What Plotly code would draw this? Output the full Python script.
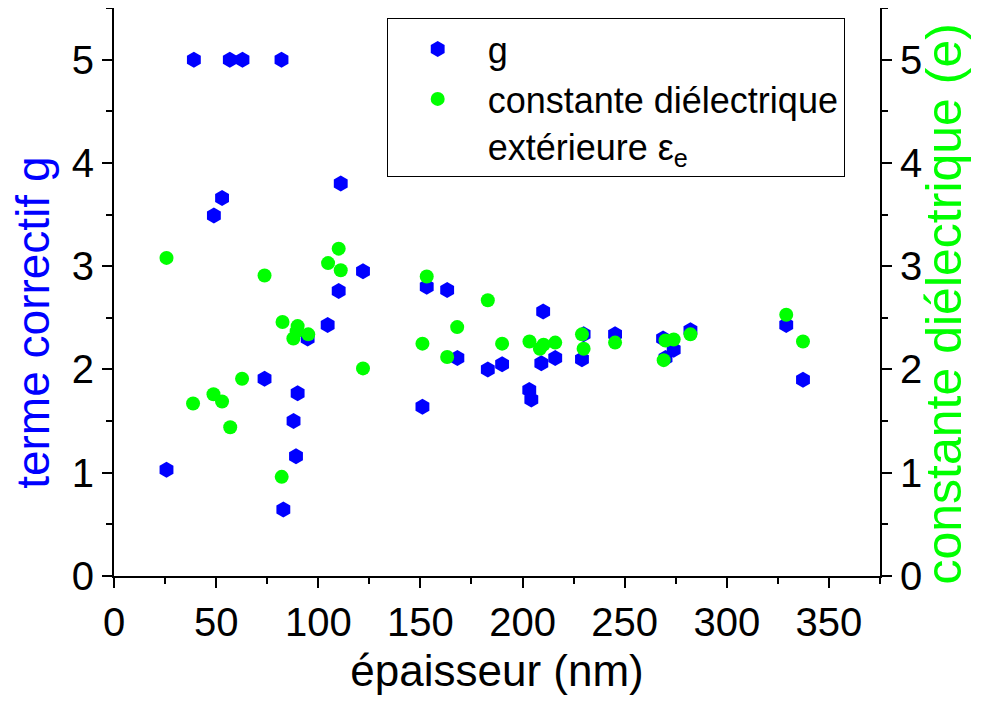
import plotly.graph_objects as go

# épaisseur (nm) and terme correctif g
g_x = [25.7, 39.1, 48.9, 52.9, 56.7, 62.9, 73.7, 82.0, 82.9, 87.9, 89.1, 89.9,
       94.8, 104.6, 110.0, 111.0, 121.9, 151.0, 153.1, 163.1, 168.1, 183.0,
       190.0, 203.3, 204.3, 209.2, 210.1, 216.0, 229.1, 229.9, 245.3, 268.8,
       270.0, 274.0, 282.2, 329.1, 337.3]
g_y = [1.03, 5.0, 3.49, 3.66, 5.0, 5.0, 1.91, 5.0, 0.645, 1.50, 1.16, 1.77,
       2.30, 2.43, 2.76, 3.80, 2.95, 1.64, 2.80, 2.77, 2.11, 2.00,
       2.05, 1.80, 1.71, 2.06, 2.56, 2.11, 2.10, 2.34, 2.34, 2.30,
       2.11, 2.19, 2.38, 2.43, 1.90]

# épaisseur (nm) and constante diélectrique extérieure
e_x = [25.7, 38.7, 48.7, 52.9, 56.9, 62.7, 73.7, 82.1, 82.5, 87.8, 89.4, 89.9,
       95.1, 104.8, 110.0, 111.0, 121.9, 151.0, 153.1, 163.1, 168.0, 183.0,
       190.0, 203.4, 208.5, 210.3, 216.0, 229.1, 229.9, 245.3, 269.1, 270.0,
       274.0, 282.2, 329.1, 337.3]
e_y = [3.08, 1.67, 1.76, 1.69, 1.44, 1.91, 2.91, 0.96, 2.46, 2.30, 2.37, 2.42,
       2.34, 3.03, 3.17, 2.96, 2.01, 2.25, 2.90, 2.12, 2.41, 2.67,
       2.25, 2.27, 2.20, 2.24, 2.26, 2.34, 2.20, 2.26, 2.09, 2.28,
       2.29, 2.34, 2.53, 2.27]

x_range = [0, 375]
y_range = [0, 5.5]

FONT = "Liberation Sans, Arial, sans-serif"
BLUE = "#0000FF"
GREEN = "#00FF00"

fig = go.Figure()
fig.add_trace(go.Scatter(
    x=g_x, y=g_y, mode="markers", name="g",
    marker=dict(symbol="hexagon", size=16, color=BLUE),
    yaxis="y", xaxis="x"))
fig.add_trace(go.Scatter(
    x=e_x, y=e_y, mode="markers",
    name="constante diélectrique<br>extérieure ε<sub>e</sub>",
    marker=dict(symbol="circle", size=14, color=GREEN),
    yaxis="y2", xaxis="x"))

axis_common = dict(showline=True, linecolor="black", linewidth=2,
                   showgrid=False, zeroline=False, automargin=False,
                   tickfont=dict(family=FONT, size=40, color="black"),
                   tickcolor="black", tickwidth=2, ticklen=10)

fig.update_layout(
    width=973, height=693,
    margin=dict(l=106, r=101, t=0, b=125),
    paper_bgcolor="white", plot_bgcolor="white",
    font=dict(family=FONT, color="black"),
    showlegend=True,
    legend=dict(x=0.356, y=0.982, xanchor="left", yanchor="top",
                bgcolor="white", bordercolor="black", borderwidth=1,
                font=dict(family=FONT, size=36, color="black"),
                itemwidth=90, valign="top", tracegroupgap=0),
    xaxis=dict(range=x_range, dtick=50, tick0=0, ticks="outside",
               title=dict(text="épaisseur (nm)",
                          font=dict(family=FONT, size=44, color="black"),
                          standoff=12),
               minor=dict(ticks="outside", dtick=25, ticklen=6,
                          tickwidth=2, tickcolor="black"),
               **axis_common),
    xaxis2=dict(range=x_range, overlaying="x", side="top", anchor="y",
                dtick=50, tick0=0, ticks="inside", showticklabels=False,
                showline=True, linecolor="black", linewidth=2,
                showgrid=False, zeroline=False, automargin=False,
                tickcolor="black", tickwidth=2, ticklen=10,
                minor=dict(ticks="inside", dtick=25, ticklen=6,
                           tickwidth=2, tickcolor="black")),
    yaxis=dict(range=y_range, dtick=1, tick0=0, ticks="outside",
               minor=dict(ticks="outside", dtick=0.5, ticklen=6,
                          tickwidth=2, tickcolor="black"),
               **axis_common),
    yaxis2=dict(range=y_range, dtick=1, tick0=0, ticks="outside",
                overlaying="y", side="right", anchor="x",
                minor=dict(ticks="outside", dtick=0.5, ticklen=6,
                           tickwidth=2, tickcolor="black"),
                **axis_common),
)

# axis titles as rotated annotations (positioned like the reference)
fig.add_annotation(text="terme correctif g", textangle=-90,
                   xref="paper", yref="paper", x=-0.105, y=0.445,
                   xanchor="center", yanchor="middle", showarrow=False,
                   font=dict(family=FONT, size=46, color=BLUE))
fig.add_annotation(text="constante diélectrique (e)", textangle=-90,
                   xref="paper", yref="paper", x=1.083, y=0.479,
                   xanchor="center", yanchor="middle", showarrow=False,
                   font=dict(family=FONT, size=50, color=GREEN))

fig.write_html("out.html")
